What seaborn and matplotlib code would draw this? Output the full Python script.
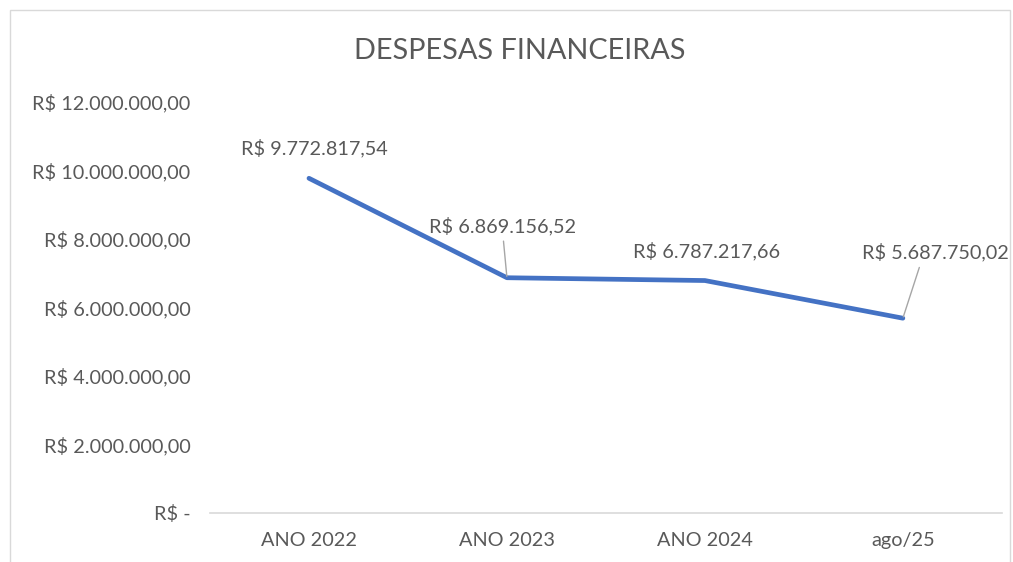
import matplotlib.pyplot as plt
import matplotlib.ticker as mticker
import pandas as pd
import seaborn as sns
from matplotlib.patches import Rectangle

periods = ["ANO 2022", "ANO 2023", "ANO 2024", "ago/25"]
despesas = [9772817.54, 6869156.52, 6787217.66, 5687750.02]
yticks = [0, 2000000, 4000000, 6000000, 8000000, 10000000, 12000000]

GREY = "#595959"
BLUE = "#4472C4"


def brl(v, pos=None):
    if v == 0:
        return "R$ -"
    s = f"{v:,.2f}".replace(",", "X").replace(".", ",").replace("X", ".")
    return f"R$ {s}"


sns.set_theme(style="white")
plt.rcParams["font.family"] = ["Lato", "DejaVu Sans"]

df = pd.DataFrame({"periodo": periods, "valor": despesas})

fig = plt.figure(figsize=(10.13, 5.62), dpi=100)
ax = fig.add_axes([0.2073, 0.0872, 0.7817, 0.7313])

sns.lineplot(data=df, x="periodo", y="valor", ax=ax, color=BLUE,
             linewidth=3.4, sort=False)

ax.set_xlim(-0.5, 3.5)
ax.set_ylim(0, 12000000)
ax.set_yticks(yticks)
ax.yaxis.set_major_formatter(mticker.FuncFormatter(brl))
ax.set_xlabel("")
ax.set_ylabel("")
for s in ["top", "right", "left"]:
    ax.spines[s].set_visible(False)
ax.spines["bottom"].set_color("#D9D9D9")
ax.spines["bottom"].set_linewidth(1.2)
ax.tick_params(axis="both", length=0, labelsize=14.3, colors=GREY)
ax.tick_params(axis="y", pad=14)
ax.tick_params(axis="x", pad=14)

# data labels (offsets in points), leader lines where the label was moved
offsets = [(3.6, 21.6), (-2.9, 37.4), (1.4, 20.9), (23.8, 47.5)]
leaders = [False, True, False, True]
for i, (val, off, lead) in enumerate(zip(despesas, offsets, leaders)):
    props = None
    if lead:
        props = dict(arrowstyle="-", color="#A6A6A6", lw=1.0,
                     shrinkA=2, shrinkB=1,
                     relpos=(0.5, 0) if i == 1 else (0.4, 0))
    ax.annotate(brl(val), xy=(i, val), xytext=off,
                textcoords="offset points", ha="center", va="center",
                fontsize=14.3, color=GREY, arrowprops=props)

fig.text(0.513, 0.909, "DESPESAS FINANCEIRAS", ha="center", va="center",
         fontsize=20.8, color=GREY)

fig.patches.append(Rectangle((10 / 1013, -0.05), 1000 / 1013, 1.05 - 10 / 562,
                             transform=fig.transFigure, fill=False,
                             edgecolor="#D9D9D9", linewidth=1.0))

fig.savefig("out.png", dpi=100, facecolor="white")
